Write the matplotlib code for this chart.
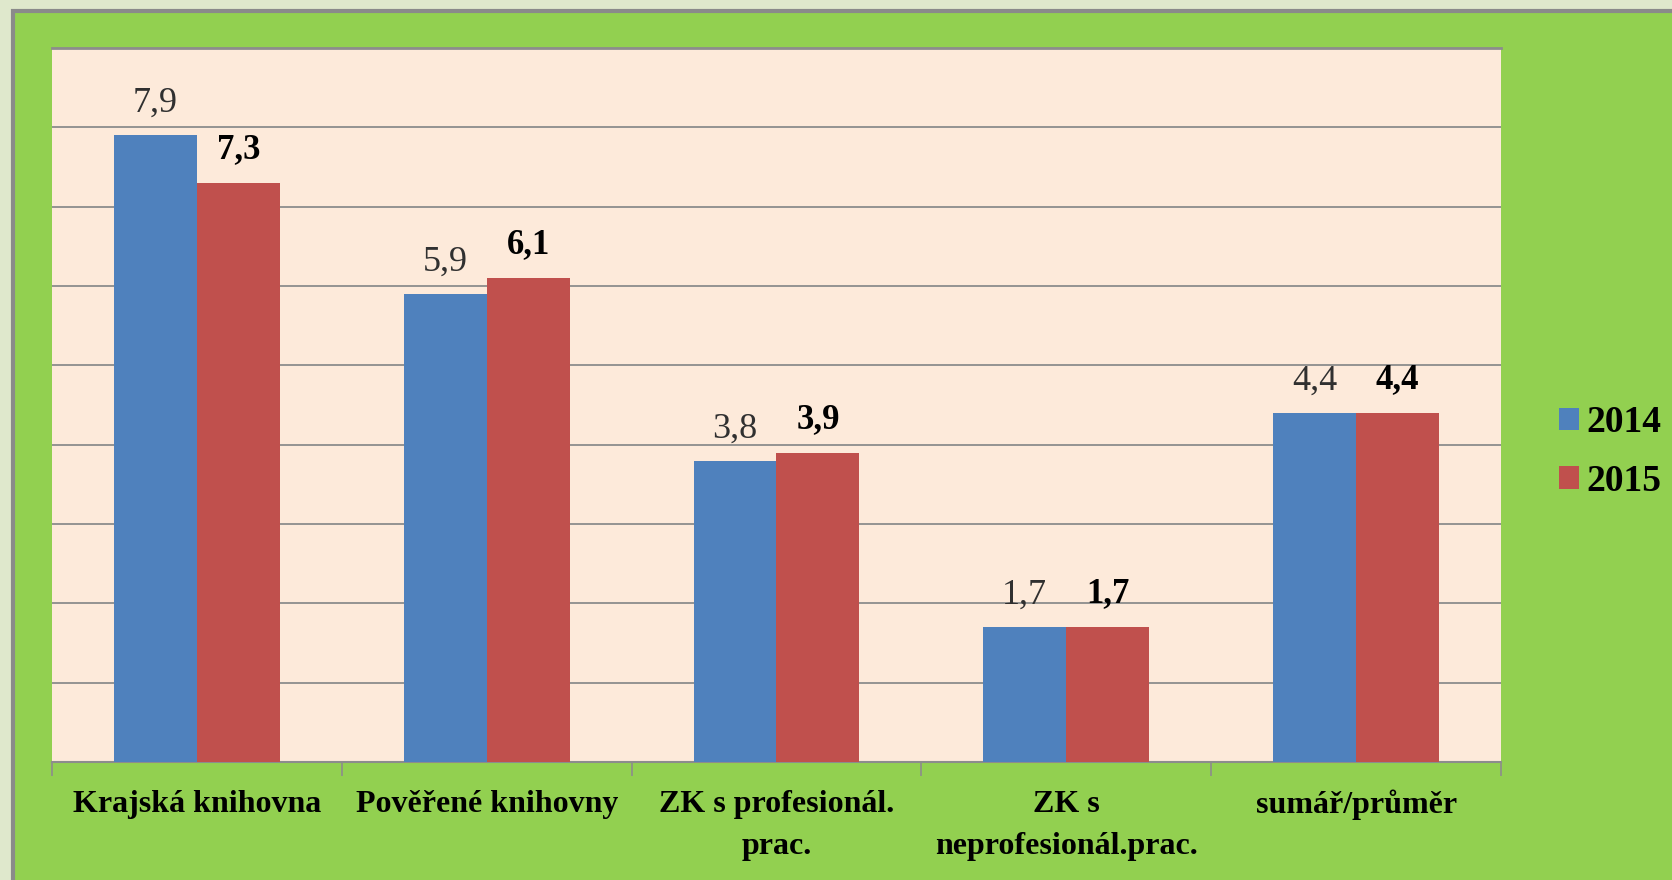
import matplotlib.pyplot as plt
import matplotlib.patches as mpatches
import numpy as np

kategorie = ['Krajská knihovna', 'Pověřené knihovny', 'ZK s profesionál.\nprac.',
             'ZK s\nneprofesionál.prac.', 'sumář/průměr']
roky = ['2014', '2015']
hodnoty_2014 = [7.9, 5.9, 3.8, 1.7, 4.4]
hodnoty_2015 = [7.3, 6.1, 3.9, 1.7, 4.4]

modra = '#4F81BD'
cervena = '#C0504D'
zelena = '#92D050'

plt.rcParams['font.family'] = ['Liberation Serif', 'DejaVu Serif']

fig = plt.figure(figsize=(16.72, 8.80), dpi=100, facecolor='#dfe8cc')

# zelený rám
ram = mpatches.Rectangle((13 / 1672, -0.01), 1, 1 - 11 / 880 + 0.01,
                         transform=fig.transFigure, facecolor=zelena,
                         edgecolor='#8a8a8a', lw=3, zorder=-5)
fig.patches.append(ram)

ax = fig.add_axes([52 / 1672, 1 - 762 / 880, (1501 - 52) / 1672, (762 - 48) / 880])
ax.set_zorder(2)
ax.set_facecolor('#FDEADA')

x = np.arange(len(kategorie))
w = 0.286
b1 = ax.bar(x - w / 2, hodnoty_2014, w, color=modra, label=roky[0], zorder=3)
b2 = ax.bar(x + w / 2, hodnoty_2015, w, color=cervena, label=roky[1], zorder=3)

for xi, v in zip(x, hodnoty_2014):
    ax.annotate(f'{v:.1f}'.replace('.', ','), (xi - w / 2, v), xytext=(0, 11),
                textcoords='offset points', ha='center', va='bottom',
                fontsize=26, color='#303030')
for xi, v in zip(x, hodnoty_2015):
    ax.annotate(f'{v:.1f}'.replace('.', ','), (xi + w / 2, v), xytext=(0, 12),
                textcoords='offset points', ha='center', va='bottom',
                fontsize=25, fontweight='bold', color='black')

ax.set_ylim(0, 9)
ax.set_xlim(-0.5, len(kategorie) - 0.5)
ax.set_yticks(np.arange(1, 9))
ax.yaxis.grid(True, color='#8c8c8c', lw=1.3, zorder=1)
ax.tick_params(axis='y', length=0, labelleft=False)

ax.set_xticks(x)
ax.set_xticklabels(kategorie, fontsize=23, fontweight='bold', linespacing=1.6)
ax.set_xticks(np.arange(-0.5, len(kategorie)), minor=True)
ax.tick_params(axis='x', which='major', length=0, pad=20)
ax.tick_params(axis='x', which='minor', length=10, color='#8c8c8c', width=1.2)

for s in ['left', 'right']:
    ax.spines[s].set_visible(False)
ax.spines['top'].set_color('#8c8c8c')
ax.spines['top'].set_linewidth(2)
ax.spines['bottom'].set_color('#8c8c8c')
ax.spines['bottom'].set_linewidth(1.5)

leg = fig.legend(handles=[b1, b2], labels=roky, loc='center left',
                 bbox_to_anchor=(1540 / 1672, 1 - 452 / 880), frameon=False,
                 prop={'size': 27, 'weight': 'bold'}, handlelength=0.55,
                 handleheight=0.55, handletextpad=0.2, labelspacing=0.62,
                 borderpad=0)

fig.savefig('out.png', dpi=100, facecolor=fig.get_facecolor())
